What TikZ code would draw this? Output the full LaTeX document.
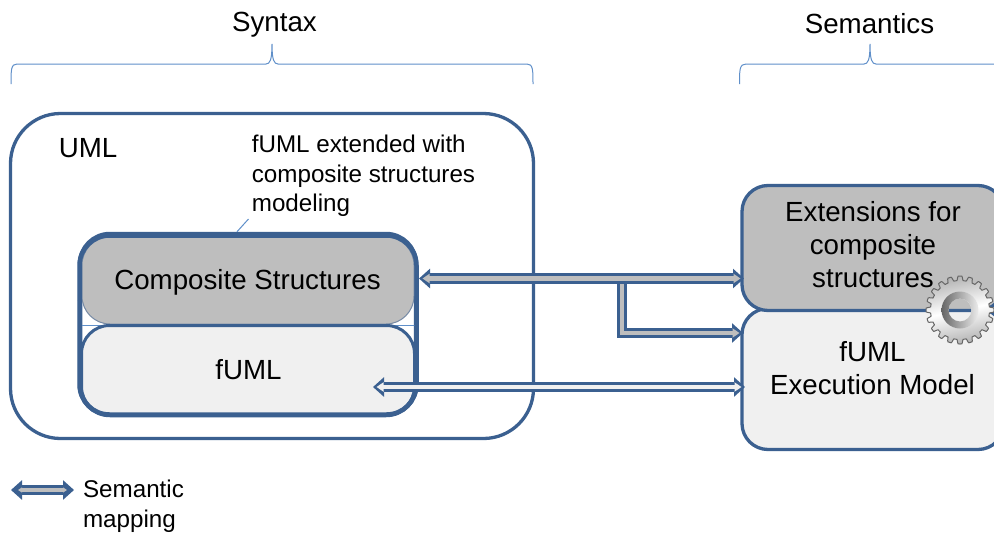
\documentclass[tikz,border=0pt]{standalone}
\usepackage{fontspec}
\setmainfont{Liberation Sans}
\usetikzlibrary{arrows.meta}
\definecolor{frameblue}{HTML}{3B6090}
\definecolor{bracecol}{HTML}{5F8FC9}
\definecolor{midgray}{HTML}{BEBEBE}
\definecolor{lightgray}{HTML}{F0F0F0}
\tikzset{
  big/.style={font=\fontsize{27.7}{33}\selectfont,align=center,text=black,inner sep=0pt},
  small/.style={font=\fontsize{24.2}{29.5}\selectfont,align=left,text=black,inner sep=0pt},
  box/.style={draw=frameblue,line width=3.3pt,rounded corners=#1,inner sep=0pt},
  thinline/.style={draw=bracecol,line width=1pt},
  shaftout/.style={draw=frameblue,line width=10.5pt},
  tipboth/.style={{Triangle[length=11pt,width=19pt]}-{Triangle[length=11pt,width=19pt]}},
  tipright/.style={-{Triangle[length=11pt,width=19pt]}},
  shaftin/.style={draw=#1,line width=4.5pt},
  intipboth/.style={{Triangle[length=7pt,width=9pt]}-{Triangle[length=7pt,width=9pt]},shorten <=3.5pt,shorten >=3.5pt},
  intipright/.style={-{Triangle[length=7pt,width=9pt]},shorten >=3.5pt},
}
\begin{document}
\begin{tikzpicture}[x=1pt,y=-1pt]
\useasboundingbox (0,0) rectangle (994,533);
% headings
\node[big] (syntax) at (274.5,25) {Syntax};
\node[big] (semantics) at (869.5,23.5) {Semantics};
% braces
\draw[thinline] (11,84) .. controls (11,70) and (11,64) .. (17,64) -- (266,64) .. controls (270,64) and (272,60) .. (272,44) .. controls (272,60) and (274,64) .. (278,64) -- (527,64) .. controls (533,64) and (533,70) .. (533,84);
\draw[thinline] (739.5,84) .. controls (739.5,70) and (739.5,64) .. (746,64) -- (864,64) .. controls (868,64) and (870,60) .. (870,44) .. controls (870,60) and (872,64) .. (876,64) -- (994,64);
% UML
\node[box=50pt,fill=white,minimum width=523pt,minimum height=325pt] (uml) at (272,276) {};
\node[big] (umllabel) at (88,148) {UML};
\node[small] (note) at (363.5,176) {fUML extended with\\composite structures\\modeling};
% composite frame
\node[box=30pt,fill=white,line width=4.5pt,minimum width=336pt,minimum height=181pt] (frame) at (248,324.5) {};
\coordinate (noteend) at (248.5,219);
\draw[thinline] (frame.north -| 237,233) -- (noteend);
\draw[thinline] (frame.west |- 0,325) -- (frame.east |- 0,325);
\node[box=28pt,draw=frameblue!55!midgray,line width=1pt,fill=midgray,minimum width=332pt,minimum height=87pt] (cs) at (248,280.5) {};
\node[big] at (247.5,282) (cslabel) {Composite Structures};
\node[box=28pt,fill=lightgray,line width=3pt,minimum width=333pt,minimum height=89pt] (fuml) at (248,370) {};
\node[big] at (248.5,369.5) (fumllabel) {fUML};
\draw[frameblue,line width=4.5pt,rounded corners=30pt] (79.5,300) -- (79.5,414.5) -- (416.5,414.5) -- (416.5,300);
\draw[frameblue,line width=4.5pt,rounded corners=30pt] (79.5,300) -- (79.5,235.5) -- (416.5,235.5) -- (416.5,300);
% right boxes
\node[box=26pt,fill=lightgray,minimum width=262pt,minimum height=141pt] (fexec) at (873,379) {};
\node[box=26pt,fill=midgray,minimum width=262pt,minimum height=125pt] (ext) at (873,248) {};
\node[big] (extlabel) at (873,244.5) {Extensions for\\composite\\structures};
\node[big] (fexeclabel) at (872.5,368.5) {fUML\\Execution Model};
% mapping arrows
\coordinate (a1) at (419,278.5);
\coordinate (a2) at (744,278.5);
\coordinate (b0) at (622,283);
\coordinate (b1) at (622,333);
\coordinate (b2) at (743,333);
\coordinate (c1) at (373,387);
\coordinate (c2) at (745,387);
\draw[shaftout,tipright] (b0) -- (b1) -- (b2);
\draw[shaftin=midgray,intipright] (b0) -- (b1) -- (b2);
\draw[shaftout,tipboth] (a1) -- (a2);
\draw[shaftin=midgray,intipboth] (a1) -- (a2);
\draw[shaftout,tipboth] (c1) -- (c2);
\draw[shaftin=lightgray,intipboth] (c1) -- (c2);
% gear
\begin{scope}[shift={(960,310)}]
  \shade[even odd rule,top color=gray!60,bottom color=gray!60,middle color=white,shading angle=12]
    plot[domain=0:359,samples=360] (\x:{min(34,max(29.5,31.8+6*cos(20*\x)))}) -- cycle (0,0) circle (11.5pt);
  \draw[black!60,line width=1pt,line join=round] plot[domain=0:359,samples=360] (\x:{min(34,max(29.5,31.8+6*cos(20*\x)))}) -- cycle;
  \shade[even odd rule,left color=black!60,right color=gray!15] (0,0) circle (18.5pt) (0,0) circle (11.5pt);
\end{scope}
% legend
\coordinate (l1) at (11,490);
\coordinate (l2) at (74,490);
\draw[shaftout,tipboth] (l1) -- (l2);
\draw[shaftin=midgray,{Triangle[length=4pt,width=5pt]}-{Triangle[length=4pt,width=5pt]},shorten <=7pt,shorten >=7pt] (l1) -- (l2);
\node[small] (legend) at (133.5,506) {Semantic\\mapping};
\end{tikzpicture}
\end{document}
